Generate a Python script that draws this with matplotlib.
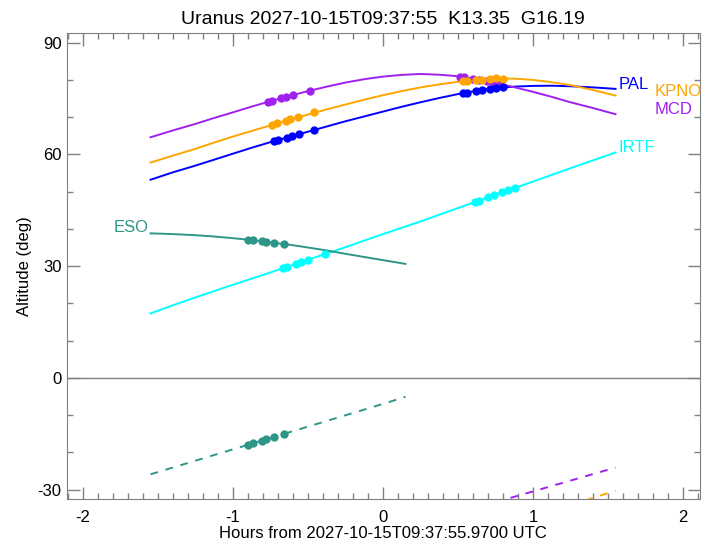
import numpy as np
import matplotlib
matplotlib.use("Agg")
import matplotlib.pyplot as plt
from matplotlib.ticker import MultipleLocator

plt.rcParams['font.family'] = ['Liberation Sans', 'DejaVu Sans']
plt.rcParams['axes.unicode_minus'] = False

# altitude curves (hours, deg)
hours = [-1.55, -1.4, -1.25, -1.125, -1.0, -0.875, -0.75, -0.625, -0.5, -0.375,
         -0.25, -0.125, 0.0, 0.125, 0.25, 0.375, 0.5, 0.625, 0.75, 0.875,
         1.0, 1.125, 1.25, 1.4, 1.55]
pal = [53.2, 55.2, 57.0, 58.6, 60.2, 61.8, 63.3, 64.7, 66.1, 67.5,
       68.9, 70.2, 71.5, 72.8, 74.0, 75.15, 76.2, 77.1, 77.8, 78.2,
       78.4, 78.45, 78.3, 78.0, 77.6]
kpno = [57.8, 59.7, 61.5, 63.2, 64.8, 66.3, 67.8, 69.3, 70.7, 72.1,
        73.4, 74.7, 75.9, 77.0, 78.0, 78.8, 79.5, 80.05, 80.35, 80.35,
        80.0, 79.4, 78.6, 77.3, 75.8]
mcd = [64.6, 66.45, 68.2, 69.8, 71.3, 72.85, 74.3, 75.7, 77.0, 78.2,
       79.3, 80.2, 80.9, 81.35, 81.6, 81.4, 81.0, 80.2, 79.2, 78.05,
       76.8, 75.45, 74.0, 72.45, 70.8]
irtf = [17.3, 19.5, 21.6, 23.3, 25.0, 26.65, 28.3, 30.0, 31.7, 33.4,
        35.1, 36.85, 38.6, 40.3, 42.0, 43.8, 45.6, 47.4, 49.2, 50.95,
        52.7, 54.5, 56.3, 58.4, 60.5]
eso_hours = [-1.55, -1.4, -1.25, -1.125, -1.0, -0.875, -0.75, -0.625, -0.5,
             -0.375, -0.25, -0.125, 0.0, 0.15]
eso = [38.8, 38.6, 38.3, 37.95, 37.5, 37.0, 36.4, 35.75, 35.0,
       34.2, 33.3, 32.45, 31.6, 30.6]

# dashed curves
eso_neg_hours = [-1.55, -1.0, -0.5, 0.0, 0.15]
eso_neg = [-25.9, -19.2, -13.1, -7.0, -5.1]
mcd_neg_hours = [0.75, 1.0, 1.25, 1.55]
mcd_neg = [-33.4, -30.5, -27.6, -24.1]
kpno_neg_hours = [1.25, 1.55]
kpno_neg = [-34.2, -30.3]

# observation points
pal_t = [-0.73, -0.70, -0.64, -0.61, -0.56, -0.46, 0.53, 0.56, 0.62, 0.66, 0.71, 0.75, 0.80]
pal_a = [63.5, 63.9, 64.5, 64.9, 65.4, 66.5, 76.4, 76.6, 77.0, 77.2, 77.5, 77.8, 78.0]
kpno_t = [-0.74, -0.71, -0.65, -0.62, -0.57, -0.46, 0.53, 0.56, 0.62, 0.66, 0.71, 0.75, 0.80]
kpno_a = [67.9, 68.3, 69.0, 69.4, 70.0, 71.3, 79.6, 79.7, 79.9, 80.1, 80.2, 80.4, 80.3]
mcd_t = [-0.77, -0.74, -0.68, -0.65, -0.60, -0.49, 0.51, 0.54, 0.60, 0.64, 0.69, 0.73, 0.78]
mcd_a = [74.1, 74.4, 75.1, 75.4, 75.9, 77.1, 80.9, 80.7, 80.3, 80.0, 79.6, 79.4, 79.0]
irtf_t = [-0.67, -0.64, -0.58, -0.55, -0.50, -0.39, 0.61, 0.64, 0.70, 0.74, 0.79, 0.83, 0.88]
irtf_a = [29.4, 29.8, 30.6, 31.0, 31.7, 33.2, 47.2, 47.6, 48.5, 49.1, 49.8, 50.4, 51.1]
eso_t = [-0.90, -0.87, -0.81, -0.78, -0.73, -0.66]
eso_a = [37.1, 36.9, 36.7, 36.5, 36.3, 35.9]
eso_neg_a = [-18.0, -17.6, -16.9, -16.5, -15.9, -15.0]

c_pal = '#0000ff'
c_kpno = '#ffa500'
c_mcd = '#a020f0'
c_irtf = '#00ffff'
c_eso = '#2e9688'

fig = plt.figure(figsize=(7.08, 5.44), dpi=100)
ax = fig.add_axes([0.094, 0.083, 0.894, 0.857])

ax.axhline(0, color='#808080', lw=1.0)

lw = 1.4
ax.plot(hours, pal, color=c_pal, lw=lw)
ax.plot(hours, kpno, color=c_kpno, lw=lw)
ax.plot(hours, mcd, color=c_mcd, lw=lw)
ax.plot(hours, irtf, color=c_irtf, lw=lw)
ax.plot(eso_hours, eso, color=c_eso, lw=lw)

ax.plot(eso_neg_hours, eso_neg, color=c_eso, lw=lw, ls=(0, (4, 4)))
ax.plot(mcd_neg_hours, mcd_neg, color=c_mcd, lw=lw, ls=(0, (4, 4)))
ax.plot(kpno_neg_hours, kpno_neg, color=c_kpno, lw=lw, ls=(0, (4, 4)))

ms = 6
ax.plot(mcd_t, mcd_a, 'o', color=c_mcd, ms=ms, mec='none')
ax.plot(kpno_t, kpno_a, 'o', color=c_kpno, ms=ms, mec='none')
ax.plot(pal_t, pal_a, 'o', color=c_pal, ms=ms, mec='none')
ax.plot(irtf_t, irtf_a, 'o', color=c_irtf, ms=ms, mec='none')
ax.plot(eso_t, eso_a, 'o', color=c_eso, ms=ms, mec='none')
ax.plot(eso_t, eso_neg_a, 'o', color=c_eso, ms=ms, mec='none')

fs = 12
ax.text(1.57, 78.8, 'PAL', color=c_pal, fontsize=fs, va='center', ha='left')
ax.text(1.81, 76.9, 'KPNO', color=c_kpno, fontsize=fs, va='center', ha='left')
ax.text(1.81, 72.1, 'MCD', color=c_mcd, fontsize=fs, va='center', ha='left')
ax.text(1.57, 61.8, 'IRTF', color=c_irtf, fontsize=fs, va='center', ha='left')
ax.text(-1.56, 40.3, 'ESO', color=c_eso, fontsize=fs, va='center', ha='right')

ax.set_xlim(-2.11, 2.11)
ax.set_ylim(-32.5, 92.7)
ax.xaxis.set_major_locator(MultipleLocator(1))
ax.xaxis.set_minor_locator(MultipleLocator(0.1))
ax.yaxis.set_major_locator(MultipleLocator(30))
ax.yaxis.set_minor_locator(MultipleLocator(10))
ax.tick_params(which='both', direction='in', top=True, right=True,
               color='#808080', labelsize=fs, labelcolor='black')
ax.tick_params(which='major', length=9, width=1)
ax.tick_params(which='minor', length=4.5, width=1)
ax.tick_params(axis='x', pad=8)
for s in ax.spines.values():
    s.set_color('#808080')

ax.set_xlabel('Hours from 2027-10-15T09:37:55.9700 UTC', fontsize=fs, labelpad=1)
ax.set_ylabel('Altitude (deg)', fontsize=fs, labelpad=4)
ax.set_title('Uranus 2027-10-15T09:37:55  K13.35  G16.19', fontsize=14, pad=6)

fig.savefig('out.png', dpi=100)
